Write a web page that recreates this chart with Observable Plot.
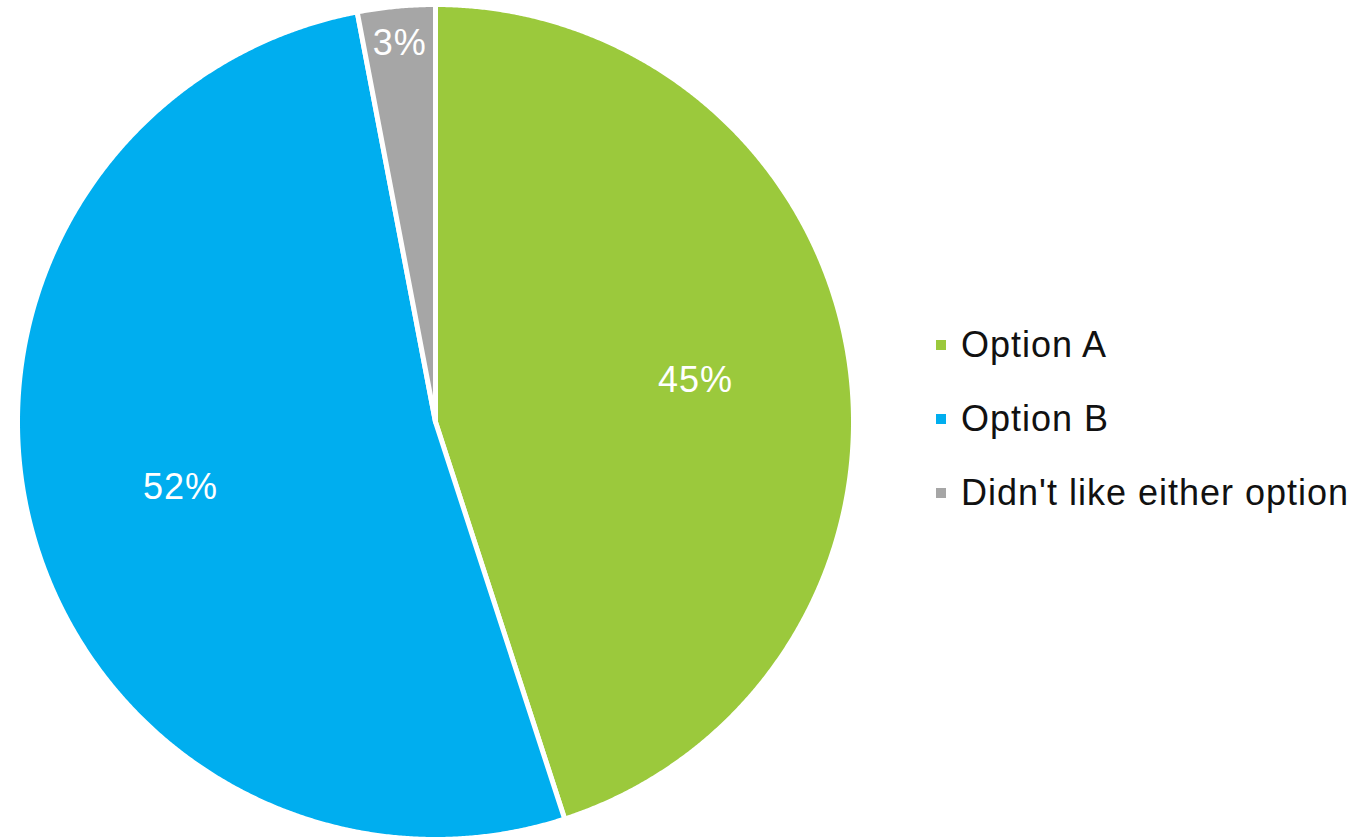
<!DOCTYPE html>
<html>
<head>
<meta charset="utf-8">
<script src="https://cdn.jsdelivr.net/npm/d3@7"></script>
<script src="https://cdn.jsdelivr.net/npm/@observablehq/plot@0.6"></script>
<style>
  html, body { margin: 0; padding: 0; background: #fff; }
  #wrap { position: relative; width: 1370px; height: 839px; font-family: "Liberation Sans", Arial, sans-serif; }
  #legend { position: absolute; left: 936px; top: 308px; }
  .row { display: flex; align-items: center; height: 74px; font-size: 36px; letter-spacing: 1px; color: #111; }
  .sw { width: 10px; height: 10px; margin-right: 15px; }
</style>
</head>
<body>
<div id="wrap"><div id="legend"></div></div>
<script>
const categories = ["Option A", "Option B", "Didn't like either option"];
const shares = [45, 52, 3];
const colors = ["#9BC93C", "#00AEEF", "#A6A6A6"];

const rows = categories.map((c, i) => ({category: c, share: shares[i]}));
const arcs = d3.pie().sort(null).value(d => d.share)(rows);

const outline = [];
const labels = [];
for (const a of arcs) {
  const c = a.data.category;
  outline.push({category: c, x: 0, y: 0});
  const n = Math.max(2, Math.ceil((a.endAngle - a.startAngle) / (Math.PI / 720)));
  for (let k = 0; k <= n; ++k) {
    const t = a.startAngle + (a.endAngle - a.startAngle) * k / n;
    outline.push({category: c, x: Math.sin(t), y: Math.cos(t)});
  }
  const mid = (a.startAngle + a.endAngle) / 2;
  const f = a.data.share < 10 ? 0.91 : 0.63;
  labels.push({x: f * Math.sin(mid), y: f * Math.cos(mid), text: a.data.share + "%"});
}

const chart = Plot.plot({
  width: 1370,
  height: 839,
  marginLeft: 17,
  marginRight: 1370 - 853,
  marginTop: 4,
  marginBottom: 0,
  x: {domain: [-1, 1], axis: null},
  y: {domain: [-1, 1], axis: null},
  color: {domain: categories, range: colors},
  style: {fontFamily: "'Liberation Sans', Arial, sans-serif", letterSpacing: "1px", background: "white"},
  marks: [
    Plot.line(outline, {x: "x", y: "y", z: "category", fill: "category", stroke: "white", strokeWidth: 5, curve: "linear-closed"}),
    Plot.text(labels, {x: "x", y: "y", text: "text", fill: "white", fontSize: 36, textAnchor: "middle", lineAnchor: "middle"})
  ]
});
document.getElementById("wrap").prepend(chart);
chart.style.position = "absolute";
chart.style.left = "0";
chart.style.top = "0";

const legend = document.getElementById("legend");
categories.forEach((c, i) => {
  const row = document.createElement("div");
  row.className = "row";
  const sw = document.createElement("span");
  sw.className = "sw";
  sw.style.background = colors[i];
  const tx = document.createElement("span");
  tx.textContent = c;
  row.append(sw, tx);
  legend.append(row);
});
</script>
</body>
</html>
